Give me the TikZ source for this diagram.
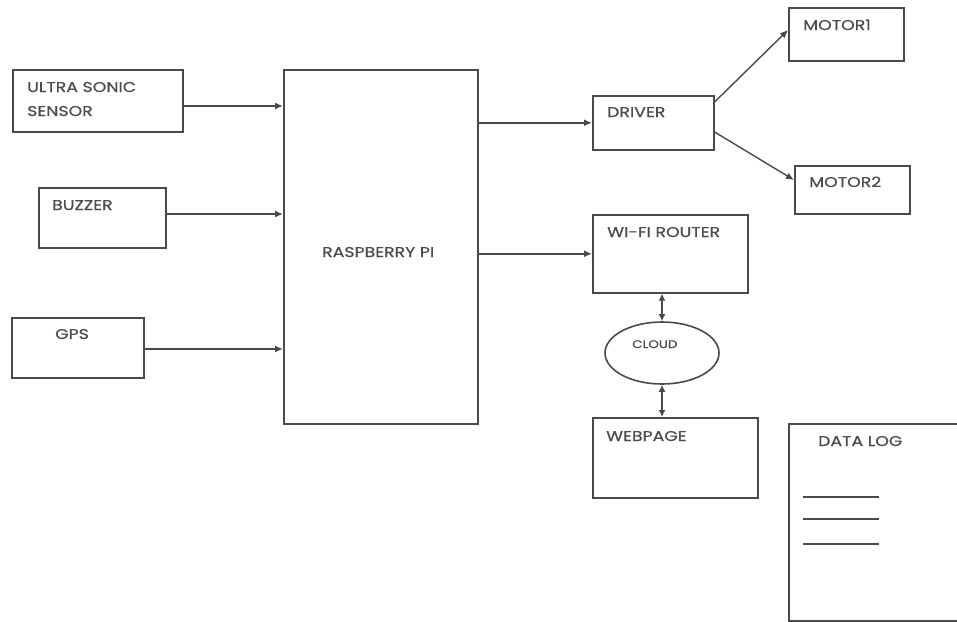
\documentclass[tikz,border=0pt]{standalone}
\usepackage{fontspec}
\setmainfont{Poppins}[FakeStretch=1.22,FakeBold=0.6]
\usetikzlibrary{arrows.meta,shapes.geometric}
\definecolor{ln}{HTML}{4A4A4A}
\definecolor{tx}{HTML}{4C4C4C}
\tikzset{
  box/.style={draw=ln, line width=1.6pt, rectangle, anchor=north west, inner sep=0pt},
  lab/.style={anchor=base west, inner sep=0pt, text=tx, font=\fontsize{14.2}{16}\selectfont},
  ar/.style={draw=ln, line width=1.4pt, -{Latex[length=8pt,width=7pt]}},
  dar/.style={draw=ln, line width=1.4pt, {Latex[length=7pt,width=7pt]}-{Latex[length=7pt,width=7pt]}},
  rule/.style={draw=ln, line width=1.5pt}
}
\begin{document}
\begin{tikzpicture}[x=1pt,y=-1pt]
\useasboundingbox (0,0) rectangle (957,621);
\clip (0,0) rectangle (957,621);
\fill[white] (0,0) rectangle (957,621);
% boxes
\node[box, minimum width=170pt, minimum height=62pt] (us) at (12,69) {};
\node[box, minimum width=127pt, minimum height=60pt] (bz) at (38,187) {};
\node[box, minimum width=132pt, minimum height=60pt] (gps) at (11,317) {};
\node[box, minimum width=194pt, minimum height=354pt] (rpi) at (283,69) {};
\node[box, minimum width=121pt, minimum height=54pt] (drv) at (592,95) {};
\node[box, minimum width=115pt, minimum height=53pt] (m1) at (788,7) {};
\node[box, minimum width=115pt, minimum height=48pt] (m2) at (794,165) {};
\node[box, minimum width=155pt, minimum height=78pt] (wifi) at (592,214) {};
\node[draw=ln, line width=1.6pt, ellipse, minimum width=114pt, minimum height=62pt, inner sep=0pt] (cloud) at (662,353) {};
\node[box, minimum width=165pt, minimum height=80pt] (web) at (592,417) {};
\node[box, minimum width=200pt, minimum height=197pt] (log) at (788,423) {};
% labels
\node[lab] (tus1) at (27,92) {ULTRA SONIC};
\node[lab] (tus2) at (27,116) {SENSOR};
\node[lab] (tbz) at (52,210) {BUZZER};
\node[lab] (tgps) at (55,339) {GPS};
\node[lab] (trpi) at (322,257) {RASPBERRY PI};
\node[lab] (tdrv) at (607,117) {DRIVER};
\node[lab] (tm1) at (803,30) {MOTOR1};
\node[lab] (tm2) at (809,187) {MOTOR2};
\node[lab] (twifi) at (607,237) {WI-FI ROUTER};
\node[lab, font=\fontsize{11}{13}\selectfont] (tcloud) at (632,348) {CLOUD};
\node[lab] (tweb) at (606,441) {WEBPAGE};
\node[lab] (tlog) at (818,446) {DATA LOG};
% data log rules
\coordinate (r1a) at (803,497); \coordinate (r1b) at (879,497);
\coordinate (r2a) at (803,519); \coordinate (r2b) at (879,519);
\coordinate (r3a) at (803,544); \coordinate (r3b) at (879,544);
\draw[rule] (r1a) -- (r1b);
\draw[rule] (r2a) -- (r2b);
\draw[rule] (r3a) -- (r3b);
% connectors
\draw[ar] (us.east |- 0,106) -- (rpi.west |- 0,106);
\draw[ar] (bz.east |- 0,214) -- (rpi.west |- 0,214);
\draw[ar] (gps.east |- 0,349) -- (rpi.west |- 0,349);
\draw[ar] (rpi.east |- drv.west) -- (drv.west);
\draw[ar] (rpi.east |- wifi.west) -- (wifi.west);
\draw[ar] (drv.east |- 0,102) -- (m1.west |- 0,30);
\draw[ar] (drv.east |- 0,132) -- (m2.west |- 0,180);
\draw[dar] (cloud.north |- wifi.south) -- (cloud.north);
\draw[dar] (cloud.south) -- (cloud.south |- web.north);
\end{tikzpicture}
\end{document}
